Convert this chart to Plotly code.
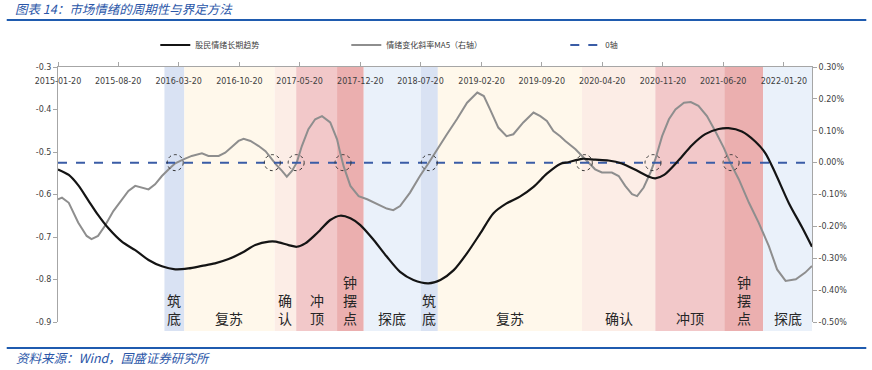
import plotly.graph_objects as go
import pandas as pd

# ---------------- data ----------------
trend_dates = ["2015-01-20","2015-02-27","2015-04-01","2015-05-06","2015-06-10","2015-07-16","2015-09-02",
               "2015-10-19","2015-12-05","2016-01-21","2016-03-08","2016-04-23","2016-06-10","2016-07-26",
               "2016-09-12","2016-10-29","2016-12-15","2017-02-01","2017-02-25","2017-04-11","2017-05-10",
               "2017-06-09","2017-07-14","2017-07-31","2017-09-05","2017-10-10","2017-11-15","2017-12-20",
               "2018-02-05","2018-03-23","2018-05-09","2018-06-25","2018-08-17","2018-09-28","2018-11-14",
               "2018-12-31","2019-02-16","2019-04-03","2019-05-19","2019-07-05","2019-08-22","2019-10-08",
               "2019-11-24","2019-12-23","2020-02-09","2020-03-26","2020-05-12","2020-06-28","2020-08-15",
               "2020-10-01","2020-10-24","2020-11-24","2021-01-15","2021-03-02","2021-04-18","2021-06-04",
               "2021-07-09","2021-08-25","2021-10-12","2021-11-16","2021-12-21","2022-02-07","2022-03-24",
               "2022-04-29"]
trend_values = [-0.541,-0.554,-0.578,-0.613,-0.648,-0.679,-0.711,
                -0.731,-0.754,-0.769,-0.776,-0.774,-0.768,-0.762,
                -0.752,-0.737,-0.719,-0.711,-0.711,-0.719,-0.723,
                -0.715,-0.695,-0.684,-0.660,-0.650,-0.656,-0.672,
                -0.707,-0.746,-0.782,-0.801,-0.809,-0.801,-0.778,
                -0.738,-0.691,-0.644,-0.621,-0.605,-0.582,-0.551,
                -0.528,-0.524,-0.516,-0.518,-0.520,-0.527,-0.542,
                -0.558,-0.562,-0.554,-0.519,-0.484,-0.458,-0.446,
                -0.444,-0.452,-0.476,-0.503,-0.550,-0.621,-0.676,
                -0.723]

slope_dates = ["2015-01-20","2015-02-03","2015-02-27","2015-04-01","2015-05-01","2015-05-18","2015-06-10",
               "2015-07-04","2015-08-03","2015-09-02","2015-09-25","2015-10-19","2015-11-12","2015-12-05",
               "2015-12-28","2016-01-21","2016-02-14","2016-03-08","2016-04-06","2016-05-05","2016-06-10",
               "2016-07-03","2016-08-08","2016-08-31","2016-09-24","2016-10-17","2016-11-04","2016-11-28",
               "2016-12-27","2017-01-20","2017-02-07","2017-02-25","2017-03-19","2017-04-05","2017-04-23",
               "2017-05-10","2017-05-28","2017-06-20","2017-07-14","2017-08-07","2017-09-05","2017-09-29",
               "2017-10-10","2017-10-22","2017-11-15","2017-12-14","2018-01-13","2018-02-18","2018-03-23",
               "2018-04-15","2018-05-09","2018-06-13","2018-07-18","2018-08-17","2018-09-16","2018-10-04",
               "2018-10-21","2018-11-25","2018-12-31","2019-02-05","2019-02-28","2019-03-22","2019-04-20",
               "2019-05-19","2019-06-12","2019-07-17","2019-08-22","2019-09-15","2019-10-08","2019-10-31",
               "2019-11-24","2019-12-12","2020-01-17","2020-02-09","2020-03-03","2020-03-26","2020-04-19",
               "2020-05-24","2020-06-17","2020-07-10","2020-08-03","2020-08-21","2020-09-13","2020-10-07",
               "2020-10-24","2020-11-17","2020-12-11","2021-01-03","2021-02-02","2021-02-26","2021-03-25",
               "2021-04-24","2021-05-23","2021-06-22","2021-07-15","2021-08-14","2021-09-19","2021-10-23",
               "2021-11-28","2021-12-27","2022-01-26","2022-03-03","2022-04-05","2022-04-29"]
slope_pct = [-0.115,-0.110,-0.126,-0.188,-0.230,-0.240,-0.230,
             -0.199,-0.152,-0.115,-0.089,-0.073,-0.078,-0.084,
             -0.068,-0.042,-0.021,-0.002,0.010,0.021,0.029,
             0.021,0.021,0.031,0.050,0.068,0.075,0.068,
             0.052,0.036,0.016,-0.005,-0.026,-0.044,-0.026,
             0.000,0.052,0.105,0.136,0.146,0.126,0.073,
             0.031,-0.011,-0.073,-0.105,-0.115,-0.131,-0.144,
             -0.149,-0.136,-0.094,-0.042,-0.002,0.042,0.068,
             0.089,0.136,0.188,0.220,0.209,0.167,0.110,
             0.083,0.089,0.126,0.157,0.146,0.131,0.099,
             0.083,0.068,0.042,0.021,0.000,-0.021,-0.031,
             -0.031,-0.042,-0.073,-0.099,-0.105,-0.078,-0.031,
             0.010,0.083,0.136,0.167,0.188,0.190,0.178,
             0.146,0.099,0.047,0.000,-0.052,-0.126,-0.188,
             -0.262,-0.335,-0.371,-0.366,-0.345,-0.324]

zero_dates = ["2015-01-20", "2022-04-29"]
zero_values = [0.0, 0.0]

# phase bands: start, end, label, colour
band_starts = ["2016-01-30","2016-04-09","2017-02-21","2017-05-08","2017-09-29","2018-01-01",
               "2018-07-21","2018-09-19","2020-02-09","2020-10-24","2021-06-24","2021-11-08"]
band_ends   = ["2016-04-09","2017-02-21","2017-05-08","2017-09-29","2018-01-01","2018-07-21",
               "2018-09-19","2020-02-09","2020-10-24","2021-06-24","2021-11-08","2022-04-29"]
band_labels = ["筑<br>底","复苏","确<br>认","冲<br>顶","钟<br>摆<br>点","探底",
               "筑<br>底","复苏","确认","冲顶","钟<br>摆<br>点","探底"]
band_colors = ["#D9E2F3","#FFF8EB","#FCEDE6","#F2C8C9","#EBAFAF","#EAF1FA",
               "#D9E2F3","#FFF8EB","#FCEDE6","#F2C8C9","#EBAFAF","#EAF1FA"]

# crossing points of slope with the zero axis (circled)
cross_dates = ["2016-03-08","2017-02-13","2017-05-08","2017-10-20","2018-08-20",
               "2020-02-17","2020-10-16","2021-07-18"]

tick_dates = ["2015-01-20","2015-08-20","2016-03-20","2016-10-20","2017-05-20","2017-12-20",
              "2018-07-20","2019-02-20","2019-09-20","2020-04-20","2020-11-20","2021-06-20","2022-01-20"]

left_tickvals = [-0.9, -0.8, -0.7, -0.6, -0.5, -0.4, -0.3]
left_ticktext = ["-0.9", "-0.8", "-0.7", "-0.6", "-0.5", "-0.4", "-0.3"]
right_tickvals = [-0.005, -0.004, -0.003, -0.002, -0.001, 0.0, 0.001, 0.002, 0.003]
right_ticktext = ["-0.50%", "-0.40%", "-0.30%", "-0.20%", "-0.10%", "0.00%", "0.10%", "0.20%", "0.30%"]

x_range = ["2015-01-20", "2022-04-29"]

# ---------------- figure ----------------
fig = go.Figure()

fig.add_trace(go.Scatter(x=slope_dates, y=[v / 100 for v in slope_pct], mode="lines",
                         name="情绪变化斜率MA5（右轴）", line=dict(color="#8E8E8E", width=2),
                         yaxis="y", legend="legend2", showlegend=True, hoverinfo="skip"))
fig.add_trace(go.Scatter(x=zero_dates, y=zero_values, mode="lines", name="0轴",
                         line=dict(color="#3A5CA6", width=2, dash="dash"),
                         yaxis="y", legend="legend3", showlegend=True, hoverinfo="skip"))
fig.add_trace(go.Scatter(x=trend_dates, y=trend_values, mode="lines", name="股民情绪长期趋势",
                         line=dict(color="#141414", width=2.2, shape="spline", smoothing=0.8),
                         yaxis="y2", legend="legend", showlegend=True, hoverinfo="skip"))

shapes = []
annotations = []
for s, e, lab, col in zip(band_starts, band_ends, band_labels, band_colors):
    shapes.append(dict(type="rect", xref="x", yref="paper", x0=s, x1=e, y0=-0.035, y1=1,
                       fillcolor=col, line=dict(width=0), layer="below"))
    mid = pd.Timestamp(s) + (pd.Timestamp(e) - pd.Timestamp(s)) / 2
    annotations.append(dict(x=mid.strftime("%Y-%m-%d"), xref="x", y=-0.03, yref="paper",
                            yanchor="bottom", xanchor="center", text=lab, showarrow=False,
                            font=dict(family="Noto Sans CJK SC", size=14, color="#262626")))

for d in cross_dates:
    shapes.append(dict(type="circle", xref="x", yref="y", xsizemode="pixel", ysizemode="pixel",
                       xanchor=d, yanchor=0, x0=-8, x1=8, y0=-8, y1=8,
                       line=dict(color="#333333", width=1, dash="dot"), layer="above"))

# header / footer rules
shapes.append(dict(type="line", xref="paper", yref="paper", x0=-0.068, x1=1.072,
                   y0=(322 - 20) / 255, y1=(322 - 20) / 255, line=dict(color="#1F5BAF", width=2)))
shapes.append(dict(type="line", xref="paper", yref="paper", x0=-0.068, x1=1.072,
                   y0=(322 - 348) / 255, y1=(322 - 348) / 255, line=dict(color="#1F5BAF", width=2)))

annotations.append(dict(text="图表 14：市场情绪的周期性与界定方法", xref="paper", yref="paper",
                        x=(14 - 57.7) / 754, y=(322 - 9) / 255, xanchor="left", yanchor="middle",
                        showarrow=False, borderpad=0,
                        font=dict(family="Noto Sans CJK SC", size=12.5, color="#2A56A8", style="italic")))
annotations.append(dict(text="资料来源：Wind，国盛证券研究所", xref="paper", yref="paper",
                        x=(15 - 57.7) / 754, y=(322 - 357) / 255, xanchor="left", yanchor="middle",
                        showarrow=False, borderpad=0,
                        font=dict(family="Noto Sans CJK SC", size=12.5, color="#2A56A8", style="italic")))

axis_font = dict(family="DejaVu Sans", size=8, color="#404040")
leg_font = dict(family="Noto Sans CJK SC", size=8, color="#404040")

fig.update_layout(
    width=872, height=370,
    margin=dict(l=58, r=60, t=67, b=48),
    paper_bgcolor="white", plot_bgcolor="white",
    showlegend=True,
    shapes=shapes, annotations=annotations,
    xaxis=dict(type="date", range=x_range, side="top", tickmode="array", tickvals=tick_dates,
               tickformat="%Y-%m-%d", ticklabelposition="inside", ticklabeloverflow="allow",
               ticklabelstandoff=10,
               ticks="outside", ticklen=4, tickcolor="#A6A6A6", showline=True, linecolor="#A6A6A6",
               linewidth=1, showgrid=False, zeroline=False, tickfont=axis_font),
    yaxis=dict(side="right", range=[-0.005, 0.003], tickmode="array", tickvals=right_tickvals,
               ticktext=right_ticktext,
               ticks="outside", ticklen=4, tickcolor="#A6A6A6", showline=True, linecolor="#A6A6A6",
               showgrid=False, zeroline=False, tickfont=axis_font),
    yaxis2=dict(side="left", overlaying="y", range=[-0.9, -0.3], tickmode="array",
                tickvals=left_tickvals, ticktext=left_ticktext,
                ticks="outside", ticklen=4, tickcolor="#A6A6A6", showline=True, linecolor="#A6A6A6",
                showgrid=False, zeroline=False, tickfont=axis_font),
    legend=dict(x=(155 - 57.7) / 754, y=(322 - 45) / 255, xanchor="left", yanchor="middle",
                font=leg_font, bgcolor="rgba(0,0,0,0)"),
    legend2=dict(x=(346 - 57.7) / 754, y=(322 - 45) / 255, xanchor="left", yanchor="middle",
                 font=leg_font, bgcolor="rgba(0,0,0,0)"),
    legend3=dict(x=(565 - 57.7) / 754, y=(322 - 45) / 255, xanchor="left", yanchor="middle",
                 font=leg_font, bgcolor="rgba(0,0,0,0)"),
)

fig.write_html("out.html", config={"displayModeBar": False},
               post_script="document.body.style.margin='0';")
